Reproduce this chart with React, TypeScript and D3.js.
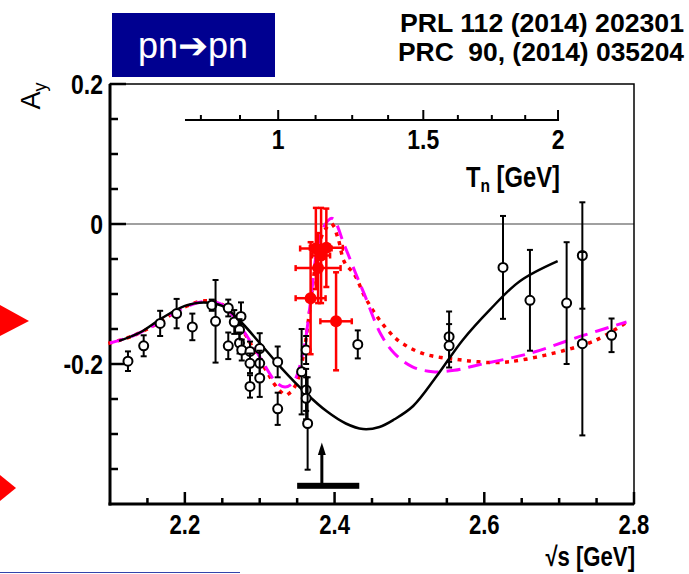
import React from "react";
import * as d3 from "d3";

const W = 689;
const H = 574;

// world data (open circles): sqrt(s), Ay, error
const dataX = [2.124, 2.145, 2.167, 2.189, 2.21, 2.236, 2.241, 2.258, 2.258, 2.266, 2.275, 2.273, 2.273, 2.276, 2.287, 2.287, 2.287, 2.3, 2.3, 2.3, 2.324, 2.324, 2.356, 2.362, 2.362, 2.362, 2.364, 2.431, 2.553, 2.553, 2.625, 2.661, 2.71, 2.731, 2.731, 2.77];
const dataY = [-0.196, -0.174, -0.142, -0.128, -0.147, -0.116, -0.139, -0.12, -0.174, -0.14, -0.132, -0.151, -0.17, -0.18, -0.182, -0.199, -0.232, -0.178, -0.199, -0.22, -0.197, -0.264, -0.211, -0.18, -0.237, -0.249, -0.285, -0.172, -0.161, -0.174, -0.062, -0.109, -0.113, -0.045, -0.171, -0.159];
const dataErr = [0.014, 0.015, 0.018, 0.021, 0.019, 0.008, 0.059, 0.012, 0.019, 0.017, 0.02, 0.015, 0.015, 0.015, 0.014, 0.014, 0.016, 0.022, 0.018, 0.027, 0.022, 0.023, 0.061, 0.02, 0.03, 0.03, 0.066, 0.02, 0.036, 0.031, 0.0735, 0.072, 0.087, 0.076, 0.131, 0.024];

// WASA points (red)
const wasaX = [2.368, 2.402, 2.375, 2.378, 2.389, 2.382];
const wasaY = [-0.106, -0.139, -0.035, -0.063, -0.034, -0.045];
const wasaXErr = [0.02, 0.021, 0.021, 0.03, 0.022, 0.012];
const wasaYErr = [0.08, 0.07, 0.058, 0.05, 0.056, 0.068];

// SAID solution (solid)
const solidX = [2.112, 2.14, 2.17, 2.2, 2.225, 2.25, 2.275, 2.3, 2.33, 2.36, 2.39, 2.415, 2.438, 2.46, 2.48, 2.505, 2.536, 2.571, 2.607, 2.647, 2.698];
const solidY = [-0.167, -0.155, -0.134, -0.117, -0.112, -0.117, -0.14, -0.17, -0.207, -0.24, -0.268, -0.285, -0.293, -0.29, -0.279, -0.26, -0.218, -0.166, -0.123, -0.082, -0.053];

// new PWA with resonance (dashed magenta)
const dashX = [2.1, 2.13, 2.167, 2.19, 2.224, 2.25, 2.273, 2.29, 2.305, 2.322, 2.334, 2.345, 2.358, 2.368, 2.376, 2.385, 2.397, 2.413, 2.428, 2.44, 2.462, 2.48, 2.504, 2.531, 2.56, 2.593, 2.66, 2.727, 2.79];
const dashY = [-0.17, -0.16, -0.14, -0.124, -0.111, -0.115, -0.145, -0.172, -0.199, -0.226, -0.233, -0.226, -0.183, -0.11, -0.04, -0.005, 0.008, -0.03, -0.07, -0.101, -0.158, -0.185, -0.204, -0.211, -0.209, -0.201, -0.185, -0.161, -0.14];

// fit with resonance (dotted red)
const dotX = [2.1, 2.13, 2.167, 2.19, 2.224, 2.25, 2.273, 2.29, 2.31, 2.322, 2.335, 2.347, 2.357, 2.366, 2.375, 2.385, 2.396, 2.405, 2.413, 2.427, 2.44, 2.451, 2.46, 2.473, 2.487, 2.518, 2.567, 2.616, 2.651, 2.709, 2.749, 2.791];
const dotY = [-0.17, -0.16, -0.14, -0.124, -0.11, -0.115, -0.145, -0.175, -0.212, -0.232, -0.244, -0.232, -0.195, -0.13, -0.055, -0.012, 0.0, -0.022, -0.054, -0.073, -0.103, -0.123, -0.137, -0.154, -0.168, -0.185, -0.194, -0.198, -0.194, -0.18, -0.166, -0.14];

const xMajor = [2.2, 2.4, 2.6, 2.8];
const yMajor = [0.2, 0, -0.2];
const tnMajor = [1, 1.5, 2];
const tnMinor = [0.75, 0.875, 1.125, 1.25, 1.375, 1.625, 1.75, 1.875];

const FONT = "'Liberation Sans', Arial, sans-serif";
const SQ = 0.82; // horizontal squeeze, the original uses a narrow helvetica
const M = 0.93892; // nucleon mass
const tnToRoots = (t: number) => Math.sqrt(4 * M * M + 2 * M * t);

// narrow bold text
function NT({ x, y, size, anchor, children }: any) {
  return (
    <text
      transform={`translate(${x},${y}) scale(${SQ},1)`}
      fontSize={size}
      fontFamily={FONT}
      fontWeight="bold"
      textAnchor={anchor}
      fill="#000"
    >
      {children}
    </text>
  );
}

export default function App() {
  const x = d3.scaleLinear().domain([2.1, 2.8]).range([110, 634]);
  const y = d3.scaleLinear().domain([-0.4, 0.2]).range([504, 84]);

  const line = d3
    .line<[number, number]>()
    .x((d) => x(d[0]))
    .y((d) => y(d[1]))
    .curve(d3.curveCatmullRom.alpha(0.5));

  const solid = line(solidX.map((v, i) => [v, solidY[i]]));
  const dash = line(dashX.map((v, i) => [v, dashY[i]]));
  const dot = line(dotX.map((v, i) => [v, dotY[i]]));

  const xMinor = d3.range(2.15, 2.79, 0.05).filter((v) => !xMajor.some((m) => Math.abs(m - v) < 1e-6));
  const yMinor = d3.range(-0.35, 0.19, 0.05).filter((v) => !yMajor.some((m) => Math.abs(m - v) < 1e-6));

  const tnY = 120;
  const arrowX = x(2.383);

  return (
    <div style={{ position: "absolute", left: 0, top: 0 }}>
      <svg width={W} height={H} style={{ display: "block", background: "#fff" }}>
        {/* decorations from slide */}
        <polygon points="0,305 29,321 0,336" fill="#ff0000" />
        <polygon points="0,475 16,488 0,501" fill="#ff0000" />
        <line x1={0} x2={240} y1={572.5} y2={572.5} stroke="#3344aa" strokeWidth={1} />

        <rect x={112} y={13} width={163} height={64} fill="#000090" />
        <text x={193} y={58} fill="#fff" fontSize={36} fontFamily={FONT} textAnchor="middle">
          pn➔pn
        </text>

        <g fontFamily={FONT} fontWeight="bold" fontSize={25} textAnchor="end">
          <text x={684} y={32} textLength={284} lengthAdjust="spacingAndGlyphs">PRL 112 (2014) 202301</text>
          <text x={684} y={61} textLength={286} lengthAdjust="spacingAndGlyphs" style={{ whiteSpace: "pre" }}>PRC  90, (2014) 035204</text>
        </g>

        {/* zero line */}
        <line x1={x(2.1)} x2={x(2.8)} y1={y(0)} y2={y(0)} stroke="#a0a0a0" strokeWidth={2} />

        {/* frame */}
        <rect x={x(2.1)} y={y(0.2)} width={x(2.8) - x(2.1)} height={y(-0.4) - y(0.2)} fill="none" stroke="#000" strokeWidth={1.5} />
        <line x1={x(2.1)} x2={x(2.1)} y1={y(0.2)} y2={y(-0.4) + 1.5} stroke="#000" strokeWidth={3} />
        <line x1={x(2.1) - 1.5} x2={x(2.8)} y1={y(-0.4)} y2={y(-0.4)} stroke="#000" strokeWidth={3} />

        {/* x ticks */}
        {xMajor.map((v) => (
          <line key={"xM" + v} x1={x(v)} x2={x(v)} y1={y(-0.4)} y2={y(-0.4) - 12} stroke="#000" strokeWidth={2.5} />
        ))}
        {xMinor.map((v) => (
          <line key={"xm" + v} x1={x(v)} x2={x(v)} y1={y(-0.4)} y2={y(-0.4) - 6} stroke="#000" strokeWidth={2.5} />
        ))}
        {/* y ticks */}
        {yMajor.map((v) => (
          <line key={"yM" + v} x1={x(2.1)} x2={x(2.1) + 16} y1={y(v)} y2={y(v)} stroke="#000" strokeWidth={2.5} />
        ))}
        {yMinor.map((v) => (
          <line key={"ym" + v} x1={x(2.1)} x2={x(2.1) + 8} y1={y(v)} y2={y(v)} stroke="#000" strokeWidth={2.5} />
        ))}

        {xMajor.map((v) => (
          <NT key={"xl" + v} x={x(v)} y={534} size={27} anchor="middle">
            {v.toFixed(1)}
          </NT>
        ))}
        {yMajor.map((v) => (
          <NT key={"yl" + v} x={103} y={y(v) + 10} size={28} anchor="end">
            {v === 0 ? "0" : v.toFixed(1)}
          </NT>
        ))}
        <NT x={635} y={566} size={27} anchor="end">
          √s [GeV]
        </NT>
        <text transform="translate(40,96) rotate(-90)" fontSize={27} textAnchor="middle" fontFamily={FONT} fill="#000">
          A<tspan fontSize={18} dy={6}>y</tspan>
        </text>

        {/* Tn axis */}
        <line x1={x(tnToRoots(0.7))} x2={x(tnToRoots(2)) + 1} y1={tnY} y2={tnY} stroke="#000" strokeWidth={2} />
        {tnMajor.map((t) => (
          <line key={"tM" + t} x1={x(tnToRoots(t))} x2={x(tnToRoots(t))} y1={tnY} y2={tnY - 10} stroke="#000" strokeWidth={2} />
        ))}
        {tnMinor.map((t) => (
          <line key={"tm" + t} x1={x(tnToRoots(t))} x2={x(tnToRoots(t))} y1={tnY} y2={tnY - 5} stroke="#000" strokeWidth={2} />
        ))}
        {tnMajor.map((t) => (
          <NT key={"tl" + t} x={x(tnToRoots(t))} y={149} size={28} anchor="middle">
            {String(t)}
          </NT>
        ))}
        <NT x={560} y={187} size={29} anchor="end">
          T<tspan fontSize={19} dy={5}>n</tspan>
          <tspan dy={-5}> [GeV]</tspan>
        </NT>

        {/* curves */}
        <path d={dot ?? ""} fill="none" stroke="#ff0000" strokeWidth={3.5} strokeDasharray="0.5 9" strokeLinecap="square" />
        <path d={dash ?? ""} fill="none" stroke="#ff00ff" strokeWidth={3} strokeDasharray="14 8" />
        <path d={solid ?? ""} fill="none" stroke="#000" strokeWidth={2.5} />

        {/* open circles */}
        {dataX.map((v, i) => {
          const cx = x(v);
          const top = y(dataY[i] + dataErr[i]);
          const bot = y(dataY[i] - dataErr[i]);
          return (
            <g key={"d" + i} stroke="#000" strokeWidth={2}>
              <line x1={cx} x2={cx} y1={top} y2={bot} />
              <line x1={cx - 3} x2={cx + 3} y1={top} y2={top} />
              <line x1={cx - 3} x2={cx + 3} y1={bot} y2={bot} />
              <circle cx={cx} cy={y(dataY[i])} r={4.5} fill="#fff" />
            </g>
          );
        })}

        {/* WASA */}
        {wasaX.map((v, i) => {
          const cx = x(v);
          const cy = y(wasaY[i]);
          const top = y(wasaY[i] + wasaYErr[i]);
          const bot = y(wasaY[i] - wasaYErr[i]);
          const l = x(v - wasaXErr[i]);
          const r = x(v + wasaXErr[i]);
          return (
            <g key={"w" + i} stroke="#ff0000" strokeWidth={2.5}>
              <line x1={cx} x2={cx} y1={top} y2={bot} />
              <line x1={cx - 3} x2={cx + 3} y1={top} y2={top} />
              <line x1={cx - 3} x2={cx + 3} y1={bot} y2={bot} />
              <line x1={l} x2={r} y1={cy} y2={cy} />
              <line x1={l} x2={l} y1={cy - 3} y2={cy + 3} />
              <line x1={r} x2={r} y1={cy - 3} y2={cy + 3} />
              <circle cx={cx} cy={cy} r={6} fill="#ff0000" stroke="none" />
            </g>
          );
        })}

        {/* d* arrow */}
        <line x1={arrowX} x2={arrowX} y1={y(-0.375)} y2={y(-0.33)} stroke="#000" strokeWidth={3} />
        <polygon
          points={`${arrowX - 4},${y(-0.33)} ${arrowX},${y(-0.312)} ${arrowX + 4},${y(-0.33)}`}
          fill="#000"
        />
        <rect x={x(2.35)} y={y(-0.374) - 3} width={x(2.433) - x(2.35)} height={6} fill="#000" />
      </svg>
    </div>
  );
}
